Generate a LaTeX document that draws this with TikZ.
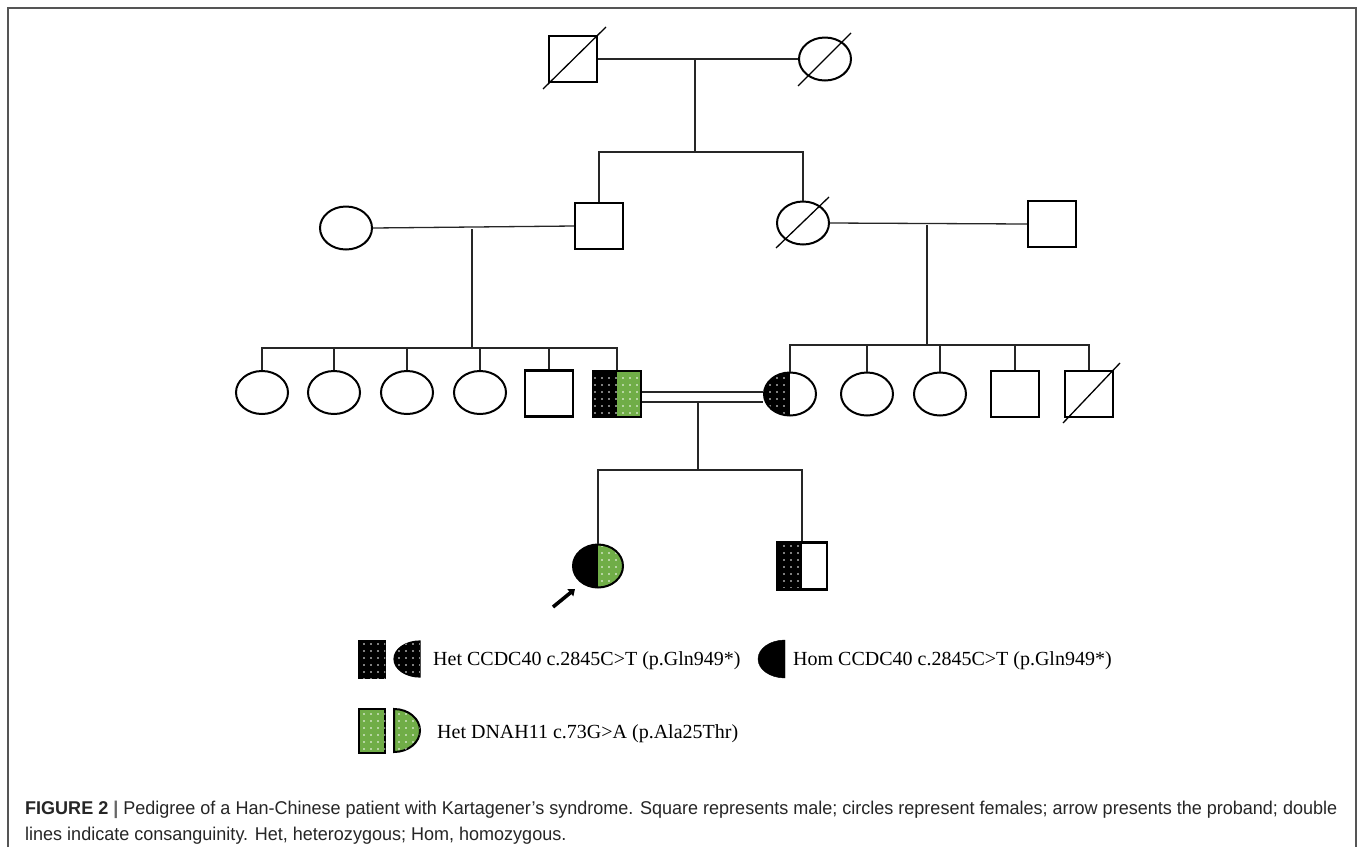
\documentclass[tikz,border=0pt]{standalone}
\usepackage{fontspec}
\setmainfont{Liberation Serif}
\newfontfamily\capfont{Liberation Sans}
\usepackage{graphicx}
\usetikzlibrary{shapes.geometric,patterns.meta,arrows.meta,calc}
\definecolor{mygreen}{RGB}{112,173,71}
\definecolor{framegray}{RGB}{85,85,85}
\tikzset{
  rel/.style={line width=1.3pt, draw=black!85},
  male/.style={rectangle, draw, line width=2.2pt, minimum width=48pt, minimum height=46pt, inner sep=0pt},
  female/.style={ellipse, draw, line width=2pt, minimum width=52pt, minimum height=43pt, inner sep=0pt},
  dotblack/.style={fill=black, postaction={pattern={Dots[radius=0.8pt,distance=7pt]}, pattern color=white}},
  dotgreen/.style={fill=mygreen, postaction={pattern={Dots[radius=0.8pt,distance=7pt]}, pattern color=white}},
  leftdots/.style={path picture={\fill[dotblack] (path picture bounding box.south west) rectangle (path picture bounding box.north);}},
  dotsgreen/.style={path picture={
      \fill[dotblack] (path picture bounding box.south west) rectangle (path picture bounding box.north);
      \fill[dotgreen] (path picture bounding box.south) rectangle (path picture bounding box.north east);}},
  solidgreen/.style={path picture={
      \fill[black] (path picture bounding box.south west) rectangle (path picture bounding box.north);
      \fill[dotgreen] (path picture bounding box.south) rectangle (path picture bounding box.north east);}},
  slash/.style={line width=1.3pt},
  legtext/.style={anchor=base west, inner sep=0pt, font=\fontsize{20}{24}\selectfont},
  frameline/.style={line width=1.6pt, draw=framegray}
}
\begin{document}
\begin{tikzpicture}[x=1pt,y=-1pt]
\useasboundingbox (0,0) rectangle (1358,847);
\fill[white] (0,0) rectangle (1358,847);
% frame
\draw[frameline] (8,847) -- (8,8) -- (1356,8) -- (1356,847);

% Generation I
\node[male] (g1m) at (573,59) {};
\node[female] (g1f) at (825,59) {};
\draw[slash] ($(g1m.center)+(-30,30)$) -- ($(g1m.center)+(33,-32)$);
\draw[slash] ($(g1f.center)+(-27,27)$) -- ($(g1f.center)+(26,-26)$);
\coordinate (m1) at (695,59);
\coordinate (s1) at (695,152);
\draw[rel] (g1m.east) -- (g1f.west);
\draw[rel] (m1) -- (s1);

% Generation II
\node[female] (m2) at (346,228) {};
\node[male] (f2) at (599,226) {};
\node[female] (a2) at (803,223) {};
\node[male] (u2) at (1052,224) {};
\draw[slash] ($(a2.center)+(-27,25)$) -- ($(a2.center)+(26,-26)$);
\draw[rel] (f2.north) |- (s1) -| (a2.north);
\draw[rel] (m2.east) -- (f2.west);
\draw[rel] (a2.east) -- (u2.west);
\coordinate (c2L) at (472,229);
\coordinate (s2L) at (472,348);
\coordinate (c2R) at (927,225);
\coordinate (s2R) at (927,345);
\draw[rel] (c2L) -- (s2L);
\draw[rel] (c2R) -- (s2R);

% Generation III left
\node[female] (l1) at (262,392.5) {};
\node[female] (l2) at (334,392.5) {};
\node[female] (l3) at (407,392.5) {};
\node[female] (l4) at (480,392.5) {};
\node[male] (l5) at (549,393.5) {};
\node[male, dotsgreen] (h3) at (617,394) {};
\draw[rel] (l1.north) |- (s2L) -| (h3.north);
\foreach \n in {l2,l3,l4,l5} \draw[rel] (\n.north) -- (\n.north |- s2L);

% Generation III right
\node[female, leftdots] (w3) at (790,394) {};
\node[female] (r2) at (867,394) {};
\node[female] (r3) at (940,394) {};
\node[male] (r4) at (1015,394) {};
\node[male] (r5) at (1089,394) {};
\draw[slash] ($(r5.center)+(-26,29)$) -- ($(r5.center)+(31,-31)$);
\draw[rel] (w3.north) |- (s2R) -| (r5.north);
\foreach \n in {r2,r3,r4} \draw[rel] (\n.north) -- (\n.north |- s2R);

% consanguineous marriage
\draw[rel] ($(h3.east)+(0,-2)$) -- ($(w3.west)+(0,-2)$);
\draw[rel] ($(h3.east)+(0,8)$) -- ($(w3.west)+(0,8)$);
\coordinate (c3) at (698,402);
\coordinate (s3) at (698,470);
\draw[rel] (c3) -- (s3);

% Generation IV
\node[female, solidgreen, minimum width=50pt] (pb) at (598,566) {};
\node[male, leftdots, minimum width=50pt, minimum height=47pt] (son) at (802,566) {};
\draw[rel] (pb.north) |- (s3) -| (son.north);
\coordinate (arrtail) at (553,607);
\coordinate (arrtip) at (575,589);
\draw[line width=3.6pt, -{Triangle[length=6pt,width=9pt]}] (arrtail) -- (arrtip);

% Legend
\node[rectangle, draw, line width=1.5pt, dotblack, minimum width=26pt, minimum height=37pt, inner sep=0pt] (lk1) at (372,659.5) {};
\filldraw[dotblack, draw=black, line width=1.2pt] (420,641) arc[start angle=270, end angle=90, x radius=26, y radius=18] -- cycle;
\node[legtext] (lt1) at (433,665) {Het CCDC40 c.2845C>T (p.Gln949*)};
\filldraw[black] (785,640) arc[start angle=270, end angle=90, x radius=27, y radius=19] -- cycle;
\node[legtext] (lt2) at (793,665) {Hom CCDC40 c.2845C>T (p.Gln949*)};
\node[rectangle, draw, line width=2pt, dotgreen, minimum width=26pt, minimum height=44pt, inner sep=0pt] (lk2) at (372,731) {};
\filldraw[dotgreen, draw=black, line width=2pt] (394,709) arc[start angle=270, end angle=450, x radius=26, y radius=21.5] -- cycle;
\node[legtext] (lt3) at (437,738) {Het DNAH11 c.73G>A (p.Ala25Thr)};

% Caption
\node[anchor=base west, inner sep=0pt, text=black!85] (cap) at (25,814) {\capfont\fontsize{18.5}{26}\selectfont\resizebox{1312pt}{\height}{\begin{tabular}[t]{@{}l@{}}\textbf{FIGURE 2} \textcolor{black!60}{\textbf{|}} Pedigree of a Han-Chinese patient with Kartagener’s syndrome. Square represents male; circles represent females; arrow presents the proband; double\\ lines indicate consanguinity. Het, heterozygous; Hom, homozygous.\end{tabular}}};
\end{tikzpicture}
\end{document}
